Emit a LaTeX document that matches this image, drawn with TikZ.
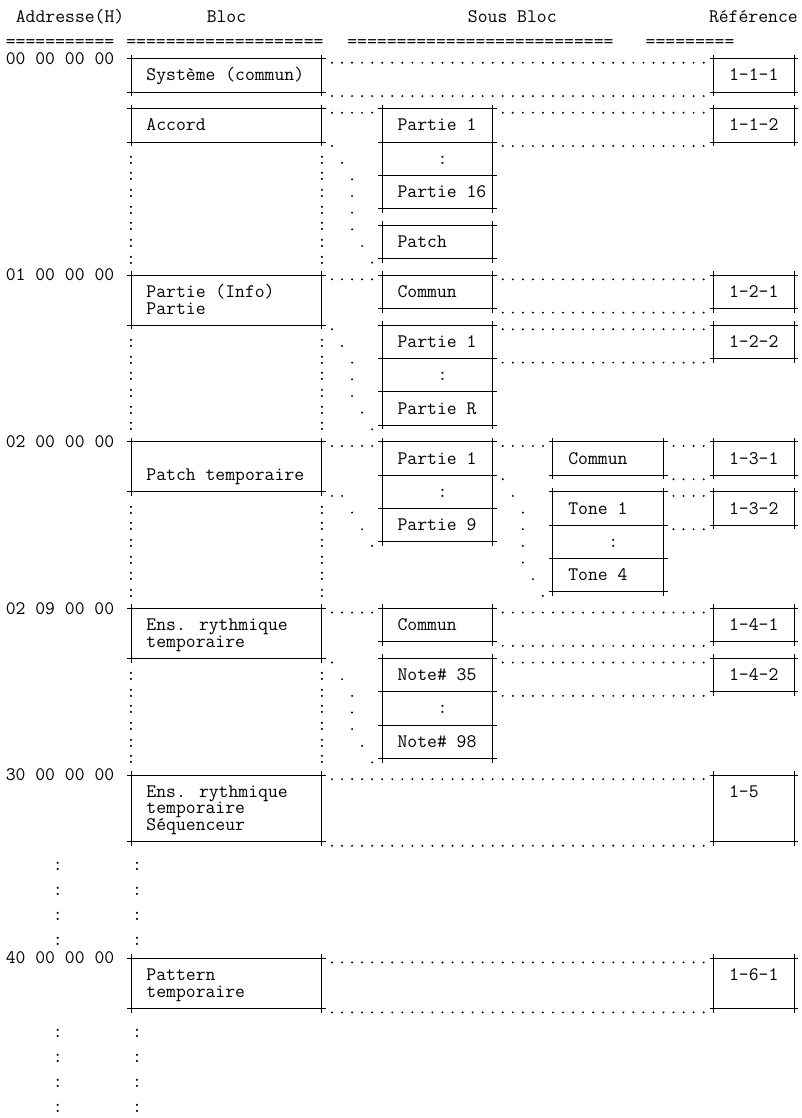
\documentclass[tikz,border=0pt]{standalone}
\usepackage{fontspec}
\usepackage{tikz}

\begin{document}
\begin{tikzpicture}[
  x=6pt, y=-9.951pt,
  font={\ttfamily\fontsize{11.43pt}{9.951pt}\selectfont},
  blk/.style 2 args={draw, line width=0.6pt, inner sep=0pt, outer sep=0pt, anchor=north west, minimum width=#1*6pt, minimum height=#2*9.951pt},
  txt/.style={anchor=base west, inner sep=0pt},
  colon/.style={anchor=base, inner sep=0pt},
  crs/.style={line width=0.6pt},
  dotlink/.style={line width=1.3pt, line cap=round, dash pattern=on 0pt off 6pt, dash phase=3pt, shorten <=3pt, shorten >=3pt}
]
\useasboundingbox (-1.048,-1.525) rectangle (78.69,65.58);
\node[txt] (hAdr) at (0.5,-0.17) {Addresse(H)};
\node[txt] (hBloc) at (19.5,-0.17) {Bloc};
\node[txt] (hSous) at (45.5,-0.17) {Sous Bloc};
\node[txt] (hRef) at (69.5,-0.17) {Référence};
\node[txt] (rule1) at (-0.5,1.3) {===========};
\node[txt] (rule2) at (11.5,1.3) {====================};
\node[txt] (rule3) at (33.5,1.3) {===========================};
\node[txt] (rule4) at (63.2,1.3) {=========};
\node[txt] (adr0) at (-0.5,2.33) {00 00 00 00};
\node[txt] (adr1) at (-0.5,15.33) {01 00 00 00};
\node[txt] (adr2) at (-0.5,25.33) {02 00 00 00};
\node[txt] (adr3) at (-0.5,35.33) {02 09 00 00};
\node[txt] (adr4) at (-0.5,45.33) {30 00 00 00};
\node[txt] (adr5) at (-0.5,56.33) {40 00 00 00};
\node[blk={19}{2}] (sys) at (12,2) {};
\node[blk={19}{2}] (acc) at (12,5) {};
\node[blk={19}{3}] (prt) at (12,15) {};
\node[blk={19}{3}] (ptch) at (12,25) {};
\node[blk={19}{3}] (ens) at (12,35) {};
\node[blk={19}{4}] (seq) at (12,45) {};
\node[blk={19}{3}] (pat) at (12,56) {};
\node[blk={11}{2}] (accA) at (37,5) {};
\node[blk={11}{2}] (accB) at (37,7) {};
\node[blk={11}{2}] (accC) at (37,9) {};
\node[blk={11}{2}] (accD) at (37,12) {};
\node[blk={11}{2}] (prtA) at (37,15) {};
\node[blk={11}{2}] (prtB) at (37,18) {};
\node[blk={11}{2}] (prtC) at (37,20) {};
\node[blk={11}{2}] (prtD) at (37,22) {};
\node[blk={11}{2}] (ptchA) at (37,25) {};
\node[blk={11}{2}] (ptchB) at (37,27) {};
\node[blk={11}{2}] (ptchC) at (37,29) {};
\node[blk={11}{2}] (ensA) at (37,35) {};
\node[blk={11}{2}] (ensB) at (37,38) {};
\node[blk={11}{2}] (ensC) at (37,40) {};
\node[blk={11}{2}] (ensD) at (37,42) {};
\node[blk={11}{2}] (tnA) at (54,25) {};
\node[blk={11}{2}] (tnB) at (54,28) {};
\node[blk={11}{2}] (tnC) at (54,30) {};
\node[blk={11}{2}] (tnD) at (54,32) {};
\node[blk={8}{2}] (ref111) at (70,2) {};
\node[blk={8}{2}] (ref112) at (70,5) {};
\node[blk={8}{2}] (ref121) at (70,15) {};
\node[blk={8}{2}] (ref122) at (70,18) {};
\node[blk={8}{2}] (ref131) at (70,25) {};
\node[blk={8}{2}] (ref132) at (70,28) {};
\node[blk={8}{2}] (ref141) at (70,35) {};
\node[blk={8}{2}] (ref142) at (70,38) {};
\node[blk={8}{4}] (ref15) at (70,45) {};
\node[blk={8}{3}] (ref161) at (70,56) {};
\foreach \n in {sys,acc,prt,ptch,ens,seq,pat,accA,accB,accC,accD,prtA,prtB,prtC,prtD,ptchA,ptchB,ptchC,ensA,ensB,ensC,ensD,tnA,tnB,tnC,tnD,ref111,ref112,ref121,ref122,ref131,ref132,ref141,ref142,ref15,ref161}
  \foreach \a in {north west,north east,south west,south east}
    \draw[crs] (\n.\a) +(-0.4,0) -- +(0.4,0) (\n.\a) +(0,-0.25) -- +(0,0.25);
\node[txt] (sysT) at ([shift={(1.5,1.33)}]sys.north west) {Système (commun)};
\node[txt] (accT) at ([shift={(1.5,1.33)}]acc.north west) {Accord};
\node[txt] (prtT1) at ([shift={(1.5,1.33)}]prt.north west) {Partie (Info)};
\node[txt] (prtT2) at ([shift={(1.5,2.33)}]prt.north west) {Partie};
\node[txt] (ptchT) at ([shift={(1.5,2.33)}]ptch.north west) {Patch temporaire};
\node[txt] (ensT1) at ([shift={(1.5,1.33)}]ens.north west) {Ens. rythmique};
\node[txt] (ensT2) at ([shift={(1.5,2.33)}]ens.north west) {temporaire};
\node[txt] (seqT1) at ([shift={(1.5,1.33)}]seq.north west) {Ens. rythmique};
\node[txt] (seqT2) at ([shift={(1.5,2.33)}]seq.north west) {temporaire};
\node[txt] (seqT3) at ([shift={(1.5,3.33)}]seq.north west) {Séquenceur};
\node[txt] (patT1) at ([shift={(1.5,1.33)}]pat.north west) {Pattern};
\node[txt] (patT2) at ([shift={(1.5,2.33)}]pat.north west) {temporaire};
\node[txt] (accAT) at ([shift={(1.5,1.33)}]accA.north west) {Partie 1};
\node[colon] (accBT) at ([shift={(6,1.33)}]accB.north west) {:};
\node[txt] (accCT) at ([shift={(1.5,1.33)}]accC.north west) {Partie 16};
\node[txt] (accDT) at ([shift={(1.5,1.33)}]accD.north west) {Patch};
\node[txt] (prtAT) at ([shift={(1.5,1.33)}]prtA.north west) {Commun};
\node[txt] (prtBT) at ([shift={(1.5,1.33)}]prtB.north west) {Partie 1};
\node[colon] (prtCT) at ([shift={(6,1.33)}]prtC.north west) {:};
\node[txt] (prtDT) at ([shift={(1.5,1.33)}]prtD.north west) {Partie R};
\node[txt] (ptchAT) at ([shift={(1.5,1.33)}]ptchA.north west) {Partie 1};
\node[colon] (ptchBT) at ([shift={(6,1.33)}]ptchB.north west) {:};
\node[txt] (ptchCT) at ([shift={(1.5,1.33)}]ptchC.north west) {Partie 9};
\node[txt] (ensAT) at ([shift={(1.5,1.33)}]ensA.north west) {Commun};
\node[txt] (ensBT) at ([shift={(1.5,1.33)}]ensB.north west) {Note\# 35};
\node[colon] (ensCT) at ([shift={(6,1.33)}]ensC.north west) {:};
\node[txt] (ensDT) at ([shift={(1.5,1.33)}]ensD.north west) {Note\# 98};
\node[txt] (tnAT) at ([shift={(1.5,1.33)}]tnA.north west) {Commun};
\node[txt] (tnBT) at ([shift={(1.5,1.33)}]tnB.north west) {Tone 1};
\node[colon] (tnCT) at ([shift={(6,1.33)}]tnC.north west) {:};
\node[txt] (tnDT) at ([shift={(1.5,1.33)}]tnD.north west) {Tone 4};
\node[txt] (ref111T) at ([shift={(1.5,1.33)}]ref111.north west) {1-1-1};
\node[txt] (ref112T) at ([shift={(1.5,1.33)}]ref112.north west) {1-1-2};
\node[txt] (ref121T) at ([shift={(1.5,1.33)}]ref121.north west) {1-2-1};
\node[txt] (ref122T) at ([shift={(1.5,1.33)}]ref122.north west) {1-2-2};
\node[txt] (ref131T) at ([shift={(1.5,1.33)}]ref131.north west) {1-3-1};
\node[txt] (ref132T) at ([shift={(1.5,1.33)}]ref132.north west) {1-3-2};
\node[txt] (ref141T) at ([shift={(1.5,1.33)}]ref141.north west) {1-4-1};
\node[txt] (ref142T) at ([shift={(1.5,1.33)}]ref142.north west) {1-4-2};
\node[txt] (ref15T) at ([shift={(1.5,1.33)}]ref15.north west) {1-5};
\node[txt] (ref161T) at ([shift={(1.5,1.33)}]ref161.north west) {1-6-1};
\foreach \p/\q in {sys.north east/ref111.north west, sys.south east/ref111.south west,
  acc.north east/accA.north west, accA.north east/ref112.north west, accA.south east/ref112.south west,
  prt.north east/prtA.north west, prtA.north east/ref121.north west, prtA.south east/ref121.south west,
  prtB.north east/ref122.north west, prtB.south east/ref122.south west,
  ptch.north east/ptchA.north west, ptchA.north east/tnA.north west, tnA.north east/ref131.north west,
  tnA.south east/ref131.south west, tnB.north east/ref132.north west, tnB.south east/ref132.south west,
  ens.north east/ensA.north west, ensA.north east/ref141.north west, ensA.south east/ref141.south west,
  ensB.north east/ref142.north west, ensB.south east/ref142.south west,
  seq.north east/ref15.north west, seq.south east/ref15.south west,
  pat.north east/ref161.north west, pat.south east/ref161.south west}
  \draw[dotlink] ([yshift=-2.4pt]\p) -- ([yshift=-2.4pt]\q);
\foreach \c/\r in {32/7,33/8,34/9,34/10,34/11,34/12,35/13,36/14,
  32/18,33/19,34/20,34/21,34/22,35/23,36/24,
  32/28,33/28,34/29,35/30,36/31,
  49/27,50/28,51/29,51/30,51/31,51/32,52/33,53/34,
  32/38,33/39,34/40,34/41,34/42,35/43,36/44}
  \fill (\c,\r+0.24) circle (0.65pt);
\foreach \a/\b in {8/14,19/24,29/34,39/44}
  \foreach \r in {\a,...,\b} {
    \node[colon] (cl\r) at (12,\r+0.33) {:};
    \node[colon] (cr\r) at (31,\r+0.33) {:};
  }
\foreach \r [count=\i] in {50.5,52,53.5,55,60.5,62,63.5,65} {
  \node[inner sep=0pt] (bl\i) at (4.7,\r) {:};
  \node[inner sep=0pt] (br\i) at (12.6,\r) {:};
}
\end{tikzpicture}
\end{document}
